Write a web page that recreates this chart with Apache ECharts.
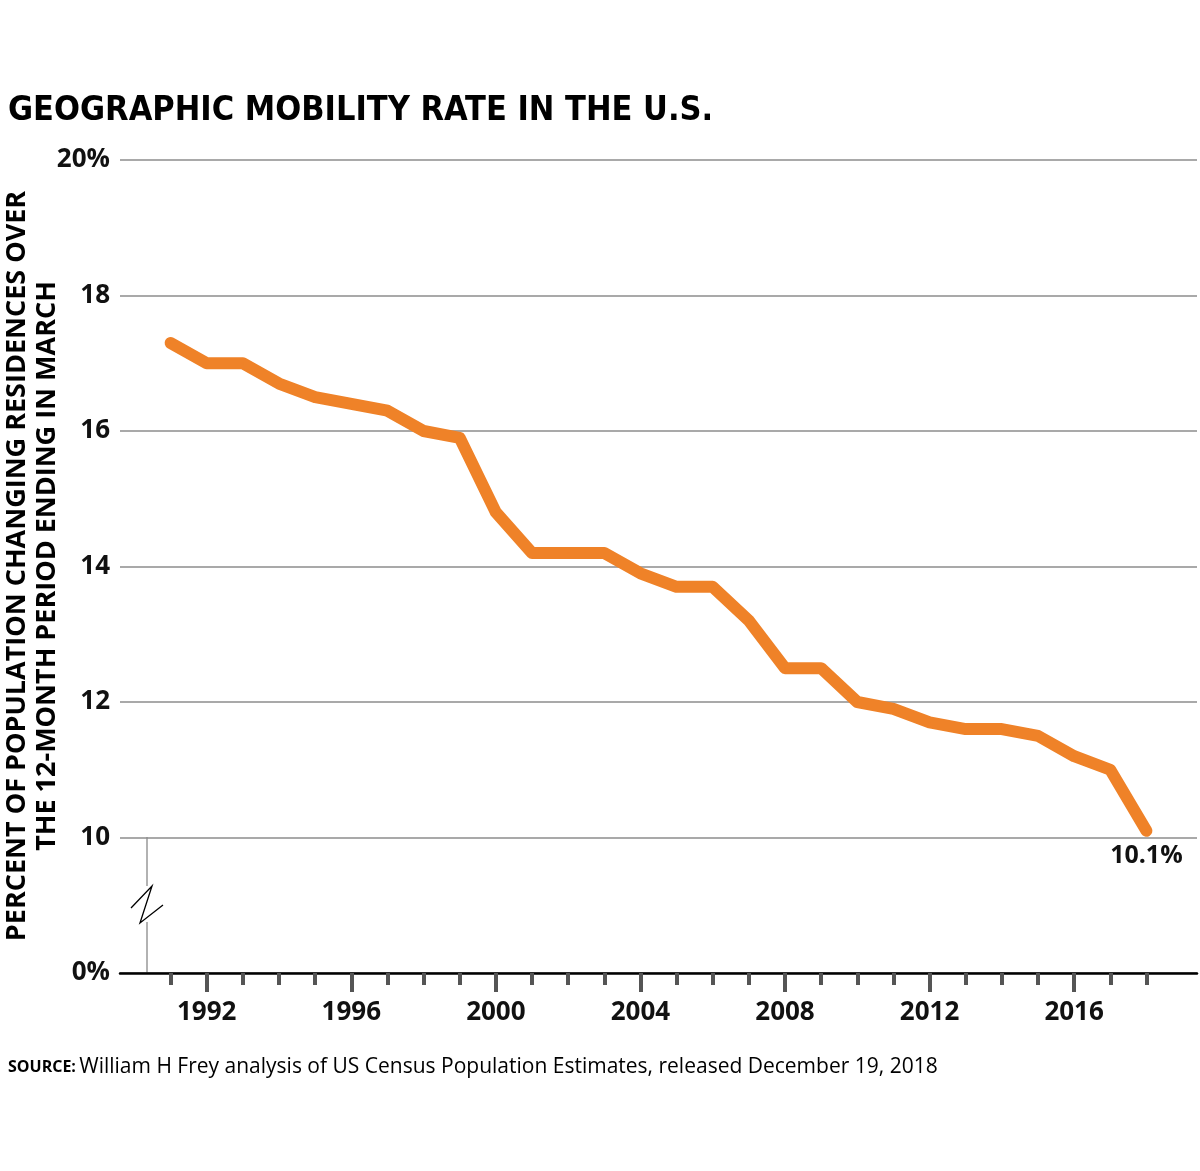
<!DOCTYPE html>
<html>
<head>
<meta charset="utf-8">
<script src="https://cdn.jsdelivr.net/npm/echarts@6/dist/echarts.min.js"></script>
<style>
  html, body { margin: 0; padding: 0; background: #fff; }
  #chart { width: 1200px; height: 1171px; }
</style>
</head>
<body>
<div id="chart"></div>
<script>
'use strict'

// data
var years = [1991, 1992, 1993, 1994, 1995, 1996, 1997, 1998, 1999, 2000,
  2001, 2002, 2003, 2004, 2005, 2006, 2007, 2008, 2009, 2010,
  2011, 2012, 2013, 2014, 2015, 2016, 2017, 2018]
var moverRate = [17.3, 17.0, 17.0, 16.7, 16.5, 16.4, 16.3, 16.0, 15.9, 14.8,
  14.2, 14.2, 14.2, 13.9, 13.7, 13.7, 13.2, 12.5, 12.5, 12.0,
  11.9, 11.7, 11.6, 11.6, 11.5, 11.2, 11.0, 10.1]
var labelYears = [1992, 1996, 2000, 2004, 2008, 2012, 2016]
// the bottom gridline stands for 0% (axis is broken below 10)
var yTicks = {8: '0%', 10: '10', 12: '12', 14: '14', 16: '16', 18: '18', 20: '20%'}

var titleText = 'GEOGRAPHIC MOBILITY RATE IN THE U.S.'
var yTitle = 'PERCENT OF POPULATION CHANGING RESIDENCES OVER\nTHE 12-MONTH PERIOD ENDING IN MARCH'
var sourceText = 'William H Frey analysis of US Census Population Estimates, released December 19, 2018'

var FONT = '"Open Sans", "Noto Sans", sans-serif'
var ORANGE = '#EF8228'

var lineData = years.map(function (y, i) {
  var item = {value: [y, moverRate[i]]}
  if (i === years.length - 1) {
    // only the last point carries a label
    item.label = {
      show: true,
      position: 'bottom',
      distance: 12,
      formatter: moverRate[i].toFixed(1) + '%',
      fontFamily: FONT,
      fontWeight: 'bold',
      fontSize: 25,
      color: '#111'
    }
  }
  return item
})

var chart = echarts.init(document.getElementById('chart'))

chart.setOption({
  animation: false,
  backgroundColor: '#fff',
  grid: {left: 120, right: 3, top: 160, bottom: 198},
  xAxis: [
    {
      // every year: short ticks
      type: 'value',
      min: 1989.6,
      max: 2019.4,
      position: 'bottom',
      axisLine: {show: true, onZero: false, lineStyle: {color: '#000', width: 2.5}},
      axisTick: {show: true, customValues: years, length: 12, lineStyle: {color: '#555', width: 4}},
      axisLabel: {show: false},
      splitLine: {show: false}
    },
    {
      // every 4 years: longer ticks and labels
      type: 'value',
      min: 1989.6,
      max: 2019.4,
      position: 'bottom',
      offset: 0,
      axisLine: {show: false},
      axisTick: {show: true, customValues: labelYears, length: 19, lineStyle: {color: '#555', width: 4}},
      axisLabel: {
        show: true,
        customValues: labelYears,
        margin: 27,
        fontFamily: FONT,
        fontWeight: 'bold',
        fontSize: 26,
        color: '#111',
        formatter: function (v) { return String(v) }
      },
      splitLine: {show: false}
    }
  ],
  yAxis: {
    type: 'value',
    min: 8,
    max: 20,
    interval: 2,
    axisLine: {show: false},
    axisTick: {show: false},
    axisLabel: {
      margin: 10,
      fontFamily: FONT,
      fontWeight: 'bold',
      fontSize: 26,
      color: '#111',
      formatter: function (v) { return yTicks[v] }
    },
    splitLine: {lineStyle: {color: '#8c8c8c', width: 1.5}}
  },
  series: [{
    type: 'line',
    xAxisIndex: 0,
    data: lineData,
    symbol: 'circle',
    symbolSize: 2,
    showSymbol: true,
    itemStyle: {color: ORANGE},
    lineStyle: {color: ORANGE, width: 12, cap: 'round', join: 'round'},
    z: 5
  }],
  graphic: [
    {
      type: 'text',
      left: 8,
      top: 94,
      style: {
        text: titleText,
        font: 'bold 34px "DejaVu Sans Condensed", "Liberation Sans Narrow", sans-serif',
        fill: '#000'
      }
    },
    {
      type: 'text',
      x: 32,
      y: 566,
      rotation: Math.PI / 2,
      style: {
        text: yTitle,
        font: 'bold 27px ' + FONT,
        fill: '#000',
        align: 'center',
        verticalAlign: 'middle',
        lineHeight: 30
      }
    },
    // axis break: short vertical rule with a zigzag
    {type: 'line', shape: {x1: 147, y1: 837, x2: 147, y2: 886}, style: {stroke: '#999', lineWidth: 1.5}},
    {type: 'line', shape: {x1: 147, y1: 922, x2: 147, y2: 973}, style: {stroke: '#999', lineWidth: 1.5}},
    {
      type: 'polyline',
      shape: {points: [[131, 908], [152, 886], [140, 923], [163, 905]]},
      style: {stroke: '#000', lineWidth: 1.3, fill: null}
    },
    {
      type: 'text',
      left: 8,
      top: 1057,
      style: {
        text: '{b|SOURCE:} {r|' + sourceText + '}',
        rich: {
          b: {font: 'bold 16px ' + FONT, fill: '#000', letterSpacing: 1},
          r: {font: '21px ' + FONT, fill: '#000'}
        }
      }
    }
  ]
})
</script>
</body>
</html>
